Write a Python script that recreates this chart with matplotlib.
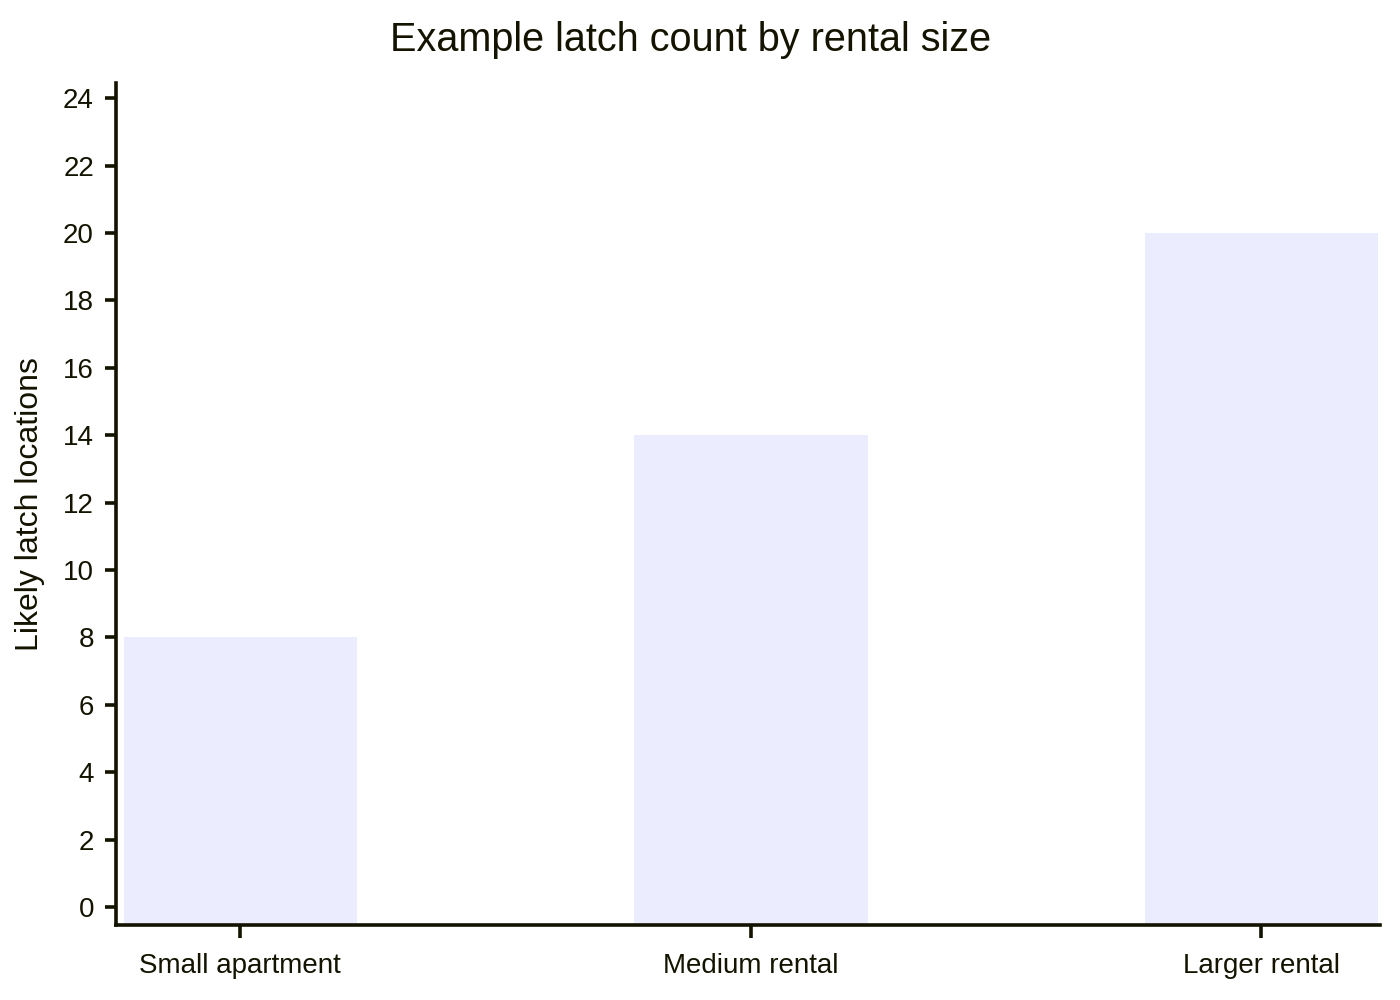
import matplotlib
matplotlib.use('Agg')
from matplotlib import pyplot as plt

plt.rcParams['font.family'] = ['Liberation Sans', 'DejaVu Sans']

# data
categories = ['Small apartment', 'Medium rental', 'Larger rental']
latch_counts = [8, 14, 20]
y_ticks = list(range(0, 25, 2))

ink = '#131300'
bar_colour = '#ECECFF'

fig = plt.figure(figsize=(14, 10), dpi=100)
ax = fig.add_axes([0.083, 0.075, 0.903, 0.842])

y_low, y_high = -0.53, 24.45
x_pos = list(range(len(categories)))
# bars sit on the axis line, like the original chart
ax.bar(x_pos, [v - y_low for v in latch_counts], bottom=y_low, width=0.457,
       color=bar_colour, edgecolor='none', zorder=1)

ax.set_xlim(-0.243, 2.233)
ax.set_ylim(y_low, y_high)
ax.set_xticks(x_pos)
ax.set_xticklabels(categories)
ax.set_yticks(y_ticks)

for side in ['top', 'right']:
    ax.spines[side].set_visible(False)
for side in ['left', 'bottom']:
    ax.spines[side].set_color(ink)
    ax.spines[side].set_linewidth(2.6)

ax.tick_params(axis='y', length=8, width=2.6, color=ink, labelcolor=ink, labelsize=20, pad=8)
ax.tick_params(axis='x', length=9, width=2.6, color=ink, labelcolor=ink, labelsize=20, pad=11.5)

ax.set_ylabel('Likely latch locations', fontsize=23, color=ink, labelpad=13)
fig.text(691 / 1400, 1 - 40 / 1000, 'Example latch count by rental size',
         ha='center', va='center', fontsize=28.5, color=ink)

plt.savefig('out.png', dpi=100)
